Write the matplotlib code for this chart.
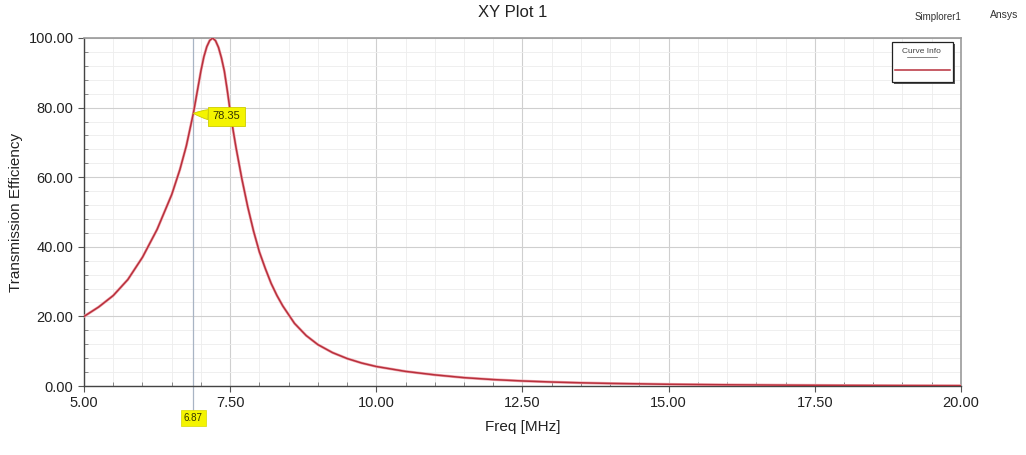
import matplotlib
matplotlib.use("Agg")
import matplotlib.pyplot as plt
from matplotlib.ticker import MultipleLocator, FormatStrFormatter
from matplotlib.patches import Rectangle

plt.rcParams['font.family'] = ['Liberation Sans', 'DejaVu Sans']

# Frequency sweep [MHz] and transmission efficiency [%]
freq = [5.0, 5.25, 5.5, 5.75, 6.0, 6.25, 6.5, 6.64, 6.75, 6.87, 6.93, 7.0,
        7.05, 7.1, 7.15, 7.2, 7.25, 7.3, 7.35, 7.4, 7.45, 7.5, 7.55, 7.6,
        7.65, 7.7, 7.8, 7.9, 8.0, 8.1, 8.2, 8.3, 8.4, 8.6, 8.8, 9.0, 9.25,
        9.5, 9.75, 10.0, 10.5, 11.0, 11.5, 12.0, 12.5, 13.0, 13.5, 14.0,
        15.0, 16.0, 17.0, 18.0, 19.0, 20.0]
efficiency = [20.0, 22.7, 26.0, 30.6, 37.0, 45.0, 55.0, 62.2, 69.0, 78.35,
              84.0, 90.6, 94.6, 97.5, 99.3, 100.0, 99.2, 97.3, 94.3, 90.5,
              85.0, 79.0, 73.5, 68.5, 64.0, 59.5, 51.5, 44.5, 38.5, 33.8,
              29.5, 26.0, 23.0, 18.0, 14.5, 11.9, 9.6, 7.9, 6.6, 5.6, 4.2,
              3.2, 2.4, 1.85, 1.45, 1.15, 0.92, 0.75, 0.5, 0.35, 0.25, 0.18,
              0.13, 0.1]

marker_freq = 6.87
marker_value = 78.35

title = "XY Plot 1"
x_label = "Freq [MHz]"
y_label = "Transmission Efficiency"
legend_title = "Curve Info"

fig = plt.figure(figsize=(10.26, 4.55), dpi=100)
ax = fig.add_axes([0.0819, 0.1516, 0.8547, 0.7649])

curve_color = "#b8303c"
ax.plot(freq, efficiency, color="#f0a8b0", lw=2.0, solid_capstyle="round",
        solid_joinstyle="round", zorder=3)
ax.plot(freq, efficiency, color=curve_color, lw=1.1, solid_joinstyle="round",
        zorder=4)

ax.set_xlim(5, 20)
ax.set_ylim(0, 100)
ax.xaxis.set_major_locator(MultipleLocator(2.5))
ax.xaxis.set_minor_locator(MultipleLocator(0.5))
ax.yaxis.set_major_locator(MultipleLocator(20))
ax.yaxis.set_minor_locator(MultipleLocator(4))
ax.xaxis.set_major_formatter(FormatStrFormatter("%.2f"))
ax.yaxis.set_major_formatter(FormatStrFormatter("%.2f"))

ax.grid(which="major", color="#cfcfcf", lw=0.8, zorder=0)
ax.grid(which="minor", color="#ededed", lw=0.6, zorder=0)
ax.set_axisbelow(True)

ax.tick_params(which="major", direction="out", length=4, width=0.8,
               colors="#555555", labelcolor="#222222", labelsize=10.5)
ax.tick_params(which="minor", direction="in", length=3, width=0.6, colors="#777777")

for side in ("left", "bottom"):
    ax.spines[side].set_color("#444444")
    ax.spines[side].set_linewidth(1.0)
for side in ("top", "right"):
    ax.spines[side].set_color("#9a9a9a")
    ax.spines[side].set_linewidth(1.2)

ax.set_xlabel(x_label, fontsize=11, color="#222222", labelpad=7)
ax.set_ylabel(y_label, fontsize=11, color="#222222", labelpad=4)
fig.text(0.50, 0.972, title, ha="center", va="center", fontsize=12, color="#222222")
fig.text(0.914, 0.962, "Simplorer1", ha="center", va="center", fontsize=7, color="#333333")
fig.text(0.9785, 0.967, "Ansys", ha="center", va="center", fontsize=7.5, color="#333333")

# Marker line, extending below the axis to the frequency tag
ax.axvline(marker_freq, color="#a8b4c4", lw=0.9, zorder=2)
ax.plot([marker_freq, marker_freq], [0, -7.0], color="#a8b4c4", lw=0.9,
        clip_on=False, zorder=2)
ax.text(marker_freq, -9.3, f"{marker_freq:.2f}", ha="center", va="center",
        fontsize=7, color="#333300", clip_on=False,
        bbox=dict(boxstyle="square,pad=0.3", fc="#f4f400", ec="#d8d800", lw=0.5))

# Value tag with a pointer to the curve
ax.annotate(f"{marker_value:.2f}", xy=(marker_freq, marker_value),
            xytext=(7.44, marker_value - 0.8), ha="center", va="center",
            fontsize=8, color="#333300", zorder=6,
            bbox=dict(boxstyle="square,pad=0.4", fc="#f4f400", ec="#cccc00", lw=0.6),
            arrowprops=dict(arrowstyle="wedge,tail_width=0.9,shrink_factor=0.6",
                            fc="#f4f400", ec="#cccc00", lw=0.6,
                            shrinkA=0, shrinkB=0))

# Curve info box with drop shadow
tr = ax.transAxes
ax.add_patch(Rectangle((0.924, 0.868), 0.0695, 0.115, transform=tr,
                       fc="#555555", ec="none", zorder=7, clip_on=False))
ax.add_patch(Rectangle((0.921, 0.874), 0.0695, 0.115, transform=tr,
                       fc="white", ec="#222222", lw=0.9, zorder=8, clip_on=False))
ax.text(0.9555, 0.960, legend_title, transform=tr, ha="center", va="center",
        fontsize=6, color="#444444", zorder=9)
ax.plot([0.938, 0.973], [0.944, 0.944], transform=tr, color="#555555",
        lw=0.5, zorder=9)
ax.plot([0.925, 0.987], [0.908, 0.908], transform=tr, color=curve_color,
        lw=1.1, zorder=9)

fig.savefig("out.png", dpi=100, facecolor="white")
